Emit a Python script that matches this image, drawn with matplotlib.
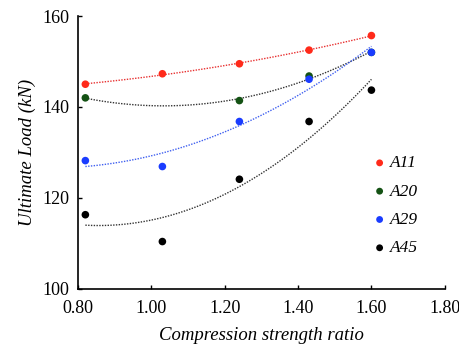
import numpy as np
import matplotlib.pyplot as plt

plt.rcParams['font.family'] = ['Liberation Serif', 'DejaVu Serif']

ratio = [0.82, 1.03, 1.24, 1.43, 1.60]
series = ["A11", "A20", "A29", "A45"]
a11 = [145.0, 147.3, 149.5, 152.5, 155.7]
a20 = [142.0, 141.4, 146.8, 152.0]
a20_x = [0.82, 1.24, 1.43, 1.60]
a29 = [128.2, 126.9, 136.8, 146.1, 152.0]
a45 = [116.3, 110.4, 124.1, 136.8, 143.7]

dot_colors = ["#ff2a1a", "#145214", "#1a3cff", "#000000"]
line_colors = ["#e83030", "#333333", "#4060f0", "#333333"]

fig = plt.figure(figsize=(4.59, 3.48), dpi=100)
ax = fig.add_axes([0.170, 0.170, 0.799, 0.784])

data = [(ratio, a11), (a20_x, a20), (ratio, a29), (ratio, a45)]
xs = np.linspace(min(ratio), max(ratio), 100)
for (x, y), name, dc, lc in zip(data, series, dot_colors, line_colors):
    # trend line: 2nd order fit, like the spreadsheet original
    coef = np.polyfit(x, y, 2)
    ax.plot(xs, np.polyval(coef, xs), ls=(0, (1, 1)), lw=1.0, color=lc, zorder=2)
    ax.scatter(x, y, s=30, color=dc, zorder=3, label=name, edgecolors='none')

ax.set_xlim(0.80, 1.80)
ax.set_ylim(100, 160)
ax.set_xticks([0.80, 1.00, 1.20, 1.40, 1.60, 1.80])
ax.set_xticklabels(["0.80", "1.00", "1.20", "1.40", "1.60", "1.80"])
ax.set_yticks([100, 120, 140, 160])
ax.tick_params(direction='in', length=3, labelsize=13, width=1)
ax.tick_params(axis='x', pad=8)
ax.tick_params(axis='y', pad=6)
for s in ['top', 'right']:
    ax.spines[s].set_visible(False)
for s in ['left', 'bottom']:
    ax.spines[s].set_linewidth(1.2)

ax.set_xlabel("Compression strength ratio", fontsize=13.5, style='italic', labelpad=7)
ax.set_ylabel("Ultimate Load (kN)", fontsize=13.5, style='italic', labelpad=5)

leg = ax.legend(loc='upper left', bbox_to_anchor=(0.775, 0.515), frameon=False,
                handletextpad=0.0, labelspacing=0.7, prop={'style': 'italic', 'size': 12.5},
                markerscale=0.9, handlelength=1.2, borderaxespad=0)

fig.savefig("out.png", dpi=100)
